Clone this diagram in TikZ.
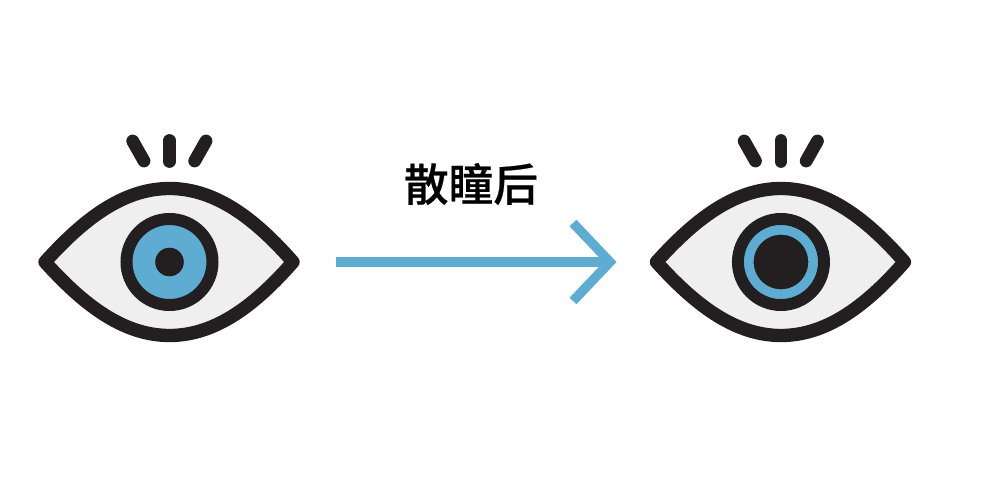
\documentclass[tikz,border=0pt]{standalone}
\usepackage{fontspec}
\newfontfamily\cjk[FakeBold=0.5]{Noto Sans CJK SC Medium}
\usetikzlibrary{positioning}
\definecolor{eyeblack}{HTML}{231F20}
\definecolor{eyewhite}{HTML}{EFEFEF}
\definecolor{irisblue}{HTML}{5FACD3}
\tikzset{
	lid/.style={draw=eyeblack, fill=eyewhite, line width=10pt, line join=round},
	ring/.style={draw=eyeblack, fill=irisblue, line width=9pt},
	lash/.style={draw=eyeblack, line width=9.6pt, line cap=round},
	pointer/.style={draw=irisblue, line width=7.1pt, line join=miter}
}
\newcommand{\eyelid}{
	\draw[lash] (132.7,141) -- (144,161);
	\draw[lash] (169.5,140.5) -- (169.5,161.5);
	\draw[lash] (206,141) -- (194.7,161);
	\draw[lid] (45,262) .. controls (82,221) and (122,188.5) .. (169.5,188.5) .. controls (217,188.5) and (257,221) .. (293,262) .. controls (257,303) and (217,335.5) .. (169.5,335.5) .. controls (122,335.5) and (82,303) .. (45,262) -- cycle;
	\draw[ring] (169.5,262) circle [radius=43];
}

\begin{document}
\begin{tikzpicture}[x=0.75pt, y=-0.75pt]
			\useasboundingbox (0,0) rectangle (1004,492);
			\begin{scope}
				\eyelid
				\fill[eyeblack] (169.5,262) circle [radius=14.3];
			\end{scope}
			\begin{scope}[xshift=458.6pt]
				\eyelid
				\draw[draw=irisblue, fill=eyeblack, line width=7pt] (169.5,262) circle [radius=32];
			\end{scope}
			\node (label) at (471,184) [font=\cjk\fontsize{33.5pt}{36pt}\selectfont, inner sep=0pt] {散瞳后};
			\coordinate (start) at (336,262);
			\coordinate (tip) at (610,262);
			\draw[pointer] (start) -- (tip);
			\draw[pointer] (573,223) -- (tip) -- (573,301);
		\end{tikzpicture}
\end{document}
